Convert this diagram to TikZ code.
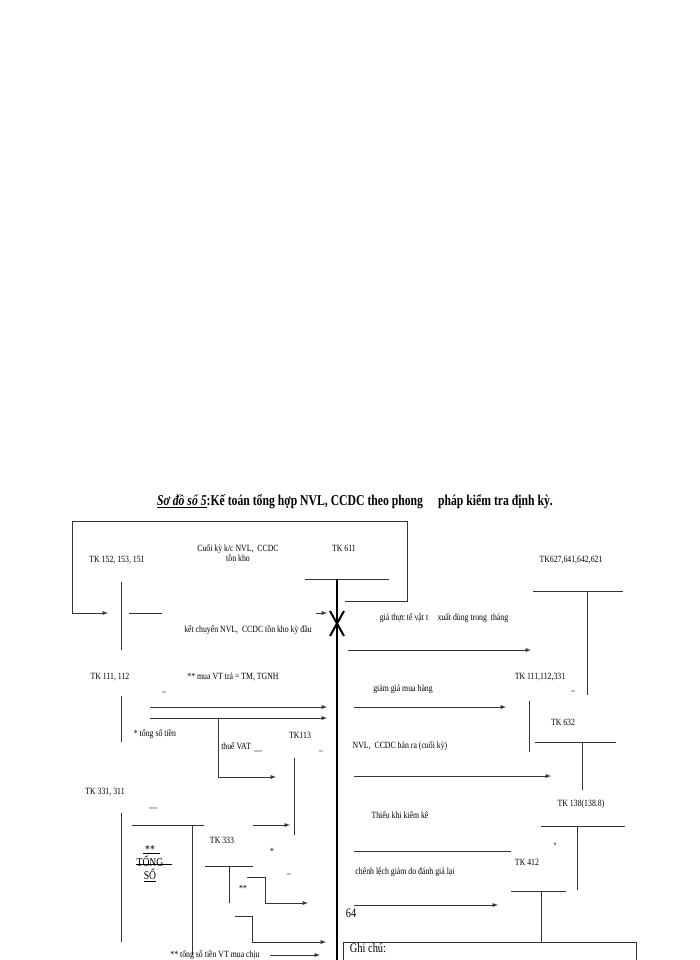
\documentclass[tikz,border=0pt]{standalone}
\usepackage{fontspec}
\setmainfont{Liberation Serif}
\begin{document}
\begin{tikzpicture}[x=1pt,y=-1pt,
  lbl/.style={font=\fontsize{9.5}{10.5}\selectfont\addfontfeatures{FakeStretch=0.82},inner sep=0,align=center},
  ln/.style={draw=black!80,line width=0.9pt},
  ar/.style={ln,-latex},
  thick611/.style={draw=black,line width=2pt}]
\useasboundingbox (0,0) rectangle (700,960);
\node[inner sep=0,font=\fontsize{15}{16}\selectfont\bfseries\addfontfeatures{FakeStretch=0.78}] (title) at (355,502) {\underline{\itshape Sơ đồ số 5}:Kế toán tổng hợp NVL, CCDC theo phong\quad pháp kiểm tra định kỳ.};
\coordinate (l1) at (407,521); \coordinate (l2) at (72,521); \coordinate (l3) at (72,613); \coordinate (l4) at (108,613);
\coordinate (r1) at (407,601); \coordinate (r2) at (345,601);
\draw[ar] (r2) -- (r1) -- (l1) -- (l2) -- (l3) -- (l4);
\node[lbl] (tk152) at (117,560) {TK 152, 153, 151};
\coordinate (a1) at (121,582); \coordinate (a2) at (121,650); \draw[ln] (a1)--(a2);
\coordinate (a3) at (129,613); \coordinate (a4) at (162,613); \draw[ln] (a3)--(a4);
\node[lbl] (ck) at (238,553) {Cuối kỳ k/c NVL,\ \ CCDC\\tồn kho};
\node[lbl] (tk611) at (344,548) {TK 611};
\coordinate (b1) at (305,579); \coordinate (b2) at (389,579); \draw[ln] (b1)--(b2);
\coordinate (c1) at (337,579); \coordinate (c2) at (337,960); \draw[thick611] (c1)--(c2);
\coordinate (x1) at (330,611); \coordinate (x2) at (344,636); \coordinate (x3) at (344,611); \coordinate (x4) at (330,636);
\draw[line width=2pt] (x1)--(x2) (x3)--(x4);
\coordinate (d1) at (316,613); \coordinate (d2) at (327,613); \draw[ar] (d1)--(d2);
\node[lbl] (kc) at (248,630) {kết chuyển NVL,\ \ CCDC tồn kho kỳ đầu};
\node[lbl] (gtt) at (444,618) {giá thực tế vật t\quad xuất dùng trong\ \ tháng};
\coordinate (e1) at (348,650); \coordinate (e2) at (531,650); \draw[ar] (e1)--(e2);
\node[lbl] (tk627) at (571,560) {TK627,641,642,621};
\coordinate (f1) at (533,591); \coordinate (f2) at (623,591); \draw[ln] (f1)--(f2);
\coordinate (f3) at (587,591); \coordinate (f4) at (587,695); \draw[ln] (f3)--(f4);
\node[lbl] (tk111) at (110,677) {TK 111, 112};
\coordinate (g1) at (121,696); \coordinate (g2) at (121,742); \draw[ln] (g1)--(g2);
\node[lbl] (dash1) at (164,692) {\_};
\node[lbl] (mua) at (233,677) {** mua VT trả = TM, TGNH};
\coordinate (h1) at (150,707); \coordinate (h2) at (327,707); \draw[ar] (h1)--(h2);
\coordinate (h3) at (150,718); \coordinate (h4) at (327,718); \draw[ar] (h3)--(h4);
\node[lbl] (tst) at (155,734) {* tổng số tiền};
\coordinate (i1) at (218,718); \coordinate (i2) at (218,777); \coordinate (i3) at (276,777); \draw[ar] (i1)--(i2)--(i3);
\node[lbl] (vat) at (236,746) {thuế VAT};
\node[lbl] (tk113) at (300,735) {TK113};
\node[lbl] (dash2) at (258,751) {\_\_};
\node[lbl] (dash3) at (321,751) {\_};
\coordinate (j1) at (294,758); \coordinate (j2) at (294,835); \draw[ln] (j1)--(j2);
\node[lbl] (tk331) at (105,792) {TK 331, 311};
\coordinate (k1) at (121,813); \coordinate (k2) at (121,942); \draw[ln] (k1)--(k2);
\node[lbl] (dash4) at (153,808) {\_\_};
\coordinate (k3) at (132,825); \coordinate (k4) at (204,825); \draw[ln] (k3)--(k4);
\coordinate (k5) at (192,825); \coordinate (k6) at (192,955); \draw[ln] (k5)--(k6);
\coordinate (m1) at (253,825); \coordinate (m2) at (290,825); \draw[ar] (m1)--(m2);
\node[lbl] (tk333) at (222,840) {TK 333};
\coordinate (n1) at (205,866); \coordinate (n2) at (253,866); \draw[ln] (n1)--(n2);
\coordinate (n3) at (229,866); \coordinate (n4) at (229,903); \draw[ln] (n3)--(n4);
\node[lbl] (star) at (272,851) {*};
\coordinate (o1) at (247,877); \coordinate (o2) at (265,877); \coordinate (o3) at (265,903); \coordinate (o4) at (308,903); \draw[ar] (o1)--(o2)--(o3)--(o4);
\node[lbl] (dash5) at (289,874) {\_};
\node[lbl] (ss) at (243,888) {**};
\coordinate (p1) at (235,916); \coordinate (p2) at (252,916); \coordinate (p3) at (252,942); \coordinate (p4) at (326,942); \draw[ar] (p1)--(p2)--(p3)--(p4);
\coordinate (q1) at (270,955); \coordinate (q2) at (320,955); \draw[ar] (q1)--(q2);
\node[lbl,font=\fontsize{12}{13}\selectfont\addfontfeatures{FakeStretch=0.8}] (tong) at (150,864) {**\\TỔNG\\\underline{SỐ}};
\coordinate (st1) at (136,864) ; \coordinate (st2) at (172,864); \draw[line width=0.6pt] (st1)--(st2);
\coordinate (st3) at (143,853); \coordinate (st4) at (160,853); \draw[line width=0.6pt] (st3)--(st4);
\node[lbl] (tsm) at (215,955) {** tổng số tiền VT mua chịu};
\node[lbl] (ggm) at (403,689) {giảm giá mua hàng};
\coordinate (s1) at (354,707); \coordinate (s2) at (506,707); \draw[ar] (s1)--(s2);
\node[lbl] (tk1113) at (540,677) {TK 111,112,331};
\coordinate (s3) at (529,701); \coordinate (s4) at (529,752); \draw[ln] (s3)--(s4);
\node[lbl] (dash6) at (573,691) {\_};
\node[lbl] (tk632) at (563,722) {TK 632};
\coordinate (t1) at (535,742); \coordinate (t2) at (616,742); \draw[ln] (t1)--(t2);
\coordinate (t3) at (582,742); \coordinate (t4) at (582,790); \draw[ln] (t3)--(t4);
\node[lbl] (nvl) at (400,746) {NVL,\ \ CCDC bán ra (cuối kỳ)};
\coordinate (u1) at (354,776); \coordinate (u2) at (551,776); \draw[ar] (u1)--(u2);
\node[lbl] (tk138) at (581,804) {TK 138(138.8)};
\coordinate (v1) at (541,826); \coordinate (v2) at (625,826); \draw[ln] (v1)--(v2);
\coordinate (v3) at (577,826); \coordinate (v4) at (577,890); \draw[ln] (v3)--(v4);
\node[lbl] (mk) at (555,845) {\textbf{,}};
\node[lbl] (thieu) at (400,815) {Thiếu khi kiểm kê};
\coordinate (w1) at (354,851); \coordinate (w2) at (511,851); \draw[ln] (w1)--(w2);
\node[lbl] (tk412) at (527,862) {TK 412};
\node[lbl] (cl) at (405,872) {chênh lệch giảm do đánh giá lại};
\coordinate (y1) at (354,905); \coordinate (y2) at (498,905); \draw[ar] (y1)--(y2);
\coordinate (z1) at (511,891); \coordinate (z2) at (566,891); \draw[ln] (z1)--(z2);
\coordinate (z3) at (541,891); \coordinate (z4) at (541,942); \draw[ln] (z3)--(z4);
\node[lbl,font=\fontsize{13}{14}\selectfont\addfontfeatures{FakeStretch=0.8}] (n64) at (351,913) {64};
\draw[ln] (343,942) rectangle (636,975);
\node[lbl,font=\fontsize{13}{14}\selectfont\addfontfeatures{FakeStretch=0.8}] (gc) at (368,948) {Ghi chú:};
\end{tikzpicture}
\end{document}
